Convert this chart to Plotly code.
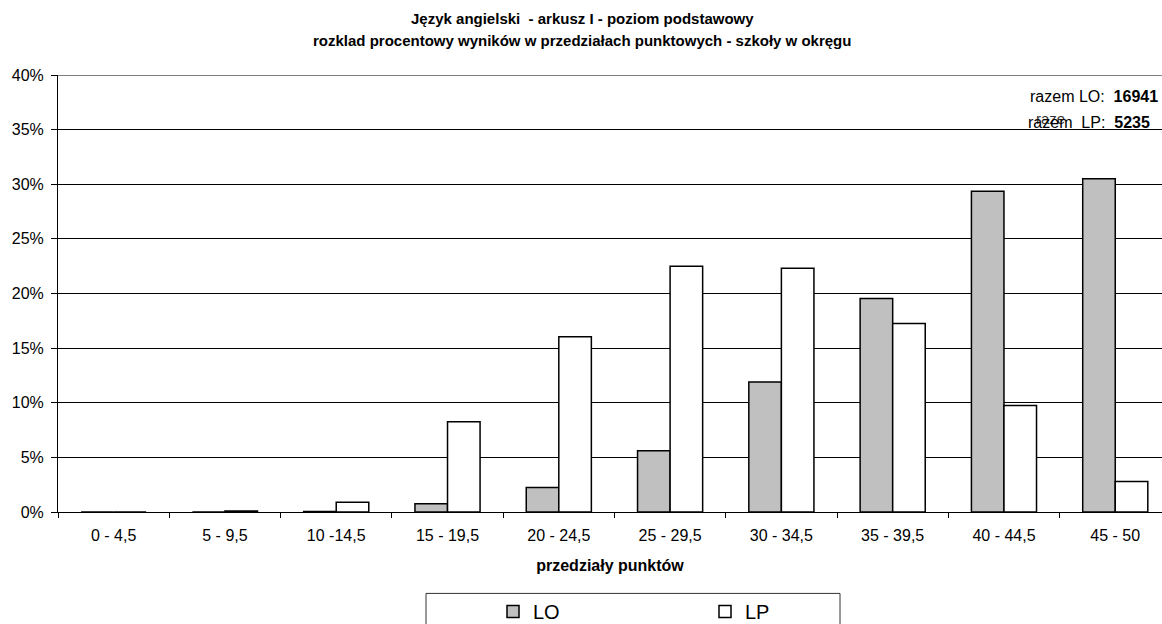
import plotly.graph_objects as go

categories = ["0 - 4,5", "5 - 9,5", "10 -14,5", "15 - 19,5", "20 - 24,5",
              "25 - 29,5", "30 - 34,5", "35 - 39,5", "40 - 44,5", "45 - 50"]
lo_values = [0.0, 0.0, 0.05, 0.75, 2.25, 5.6, 11.9, 19.55, 29.35, 30.5]
lp_values = [0.0, 0.1, 0.9, 8.25, 16.05, 22.5, 22.3, 17.25, 9.75, 2.8]
y_ticks = [0, 5, 10, 15, 20, 25, 30, 35, 40]
y_labels = [f"{v}%" for v in y_ticks]
total_lo = 16941
total_lp = 5235

FONT = "Arial, Liberation Sans, sans-serif"

W, H = 1162, 624
ML, MT = 58, 75
PLOT_BOTTOM = 512.5
PW = W - ML
PH = PLOT_BOTTOM - MT


def px(x_page):
    return (x_page - ML) / PW


def py(y_page):
    return (PLOT_BOTTOM - y_page) / PH


fig = go.Figure()
fig.add_trace(go.Bar(name="LO", x=categories, y=lo_values,
                     marker=dict(color="#C0C0C0", line=dict(color="black", width=1.5))))
fig.add_trace(go.Bar(name="LP", x=categories, y=lp_values,
                     marker=dict(color="white", line=dict(color="black", width=1.5))))

fig.update_layout(
    width=W, height=H,
    margin=dict(l=ML, r=0, t=MT, b=H - PLOT_BOTTOM, pad=0, autoexpand=False),
    paper_bgcolor="white", plot_bgcolor="white",
    font=dict(family=FONT, size=16, color="black"),
    barmode="group", bargap=0.415, bargroupgap=0,
    showlegend=True,
    legend=dict(
        orientation="h", x=px(493), xanchor="left", y=py(612), yanchor="middle",
        entrywidth=167, entrywidthmode="pixels",
        font=dict(family=FONT, size=20), bgcolor="rgba(0,0,0,0)",
        borderwidth=0, itemclick=False, itemdoubleclick=False,
    ),
)

fig.update_xaxes(
    type="category", range=[-0.5, 9.42],
    showline=True, linecolor="black", linewidth=1,
    ticks="outside", ticklen=5, tickcolor="black",
    tickson="boundaries", showgrid=False, ticklabelstandoff=9,
    tickfont=dict(family=FONT, size=16), automargin=False,
    title=dict(text="przedziały punktów", font=dict(family=FONT, size=16, weight="bold"), standoff=16),
)
fig.update_yaxes(
    range=[0, 40], tickvals=y_ticks, ticktext=y_labels,
    showline=True, linecolor="black", linewidth=1,
    ticks="outside", ticklen=6, tickcolor="black", ticklabelstandoff=4,
    showgrid=True, gridcolor="black", gridwidth=1, zeroline=False,
    tickfont=dict(family=FONT, size=16), automargin=False,
)

# title (two lines)
fig.add_annotation(xref="paper", yref="paper", x=px(582), y=py(18),
                   xanchor="center", yanchor="middle", showarrow=False,
                   text="<b>Język angielski  - arkusz I - poziom podstawowy</b>",
                   font=dict(family=FONT, size=15))
fig.add_annotation(xref="paper", yref="paper", x=px(582), y=py(40),
                   xanchor="center", yanchor="middle", showarrow=False,
                   text="<b>rozklad procentowy wyników w przedziałach punktowych - szkoły w okręgu</b>",
                   font=dict(family=FONT, size=15))

# top border of plot area (grey)
fig.add_shape(type="line", xref="paper", yref="y", x0=0, x1=1, y0=40, y1=40,
              line=dict(color="#808080", width=2))
# legend frame
fig.add_shape(type="rect", xref="paper", yref="paper",
              x0=px(426), x1=px(840), y0=py(640), y1=py(594),
              line=dict(color="#333333", width=1), fillcolor="rgba(0,0,0,0)")

# totals
fig.add_annotation(xref="paper", yref="paper", x=px(1152), y=py(118.5),
                   xanchor="right", yanchor="middle", showarrow=False,
                   text=f"raze<span style='color:rgba(0,0,0,0)'>m&nbsp; LP:&nbsp; <b>{total_lp}</b></span>",
                   font=dict(family=FONT, size=15, color="#333333"))
fig.add_annotation(xref="paper", yref="paper", x=px(1160), y=py(97),
                   xanchor="right", yanchor="middle", showarrow=False,
                   text=f"razem LO:&nbsp; <b>{total_lo}</b>", font=dict(family=FONT, size=16))
fig.add_annotation(xref="paper", yref="paper", x=px(1152), y=py(122.5),
                   xanchor="right", yanchor="middle", showarrow=False,
                   text=f"razem&nbsp; LP:&nbsp; <b>{total_lp}</b>", font=dict(family=FONT, size=16))

fig.write_html("out.html", config={"displayModeBar": False},
               post_script="document.body.style.margin='0';document.body.style.overflow='hidden';")
